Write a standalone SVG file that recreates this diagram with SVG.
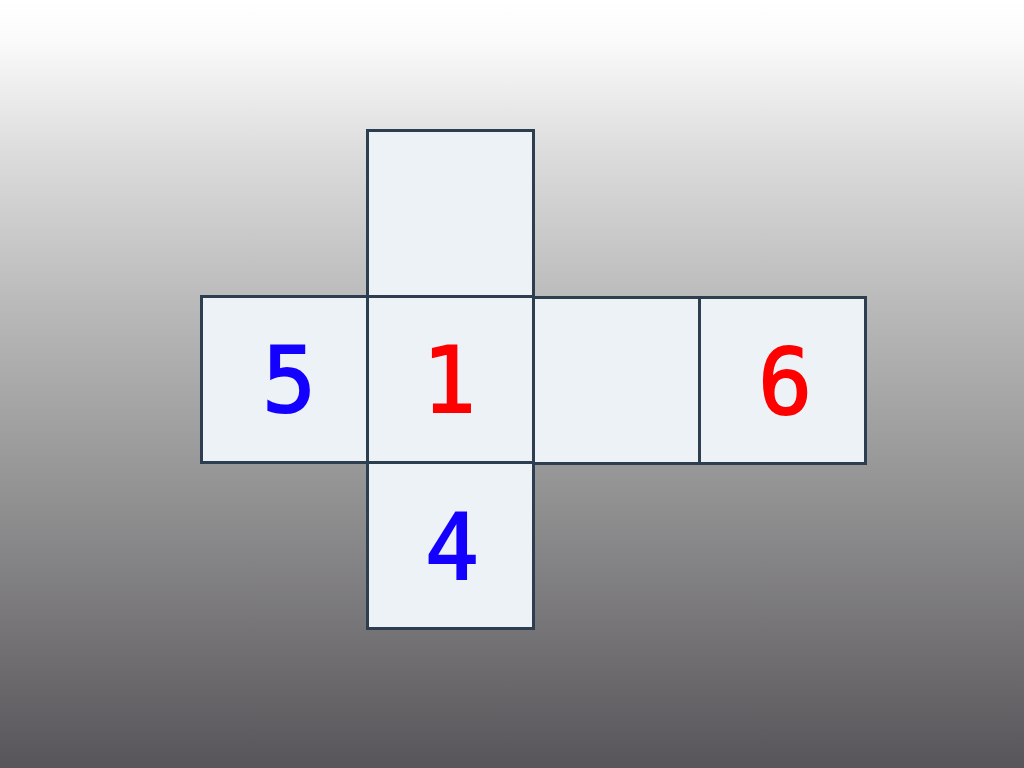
<svg xmlns="http://www.w3.org/2000/svg" width="1024" height="768" viewBox="0 0 1024 768">
  <defs>
    <linearGradient id="bg" x1="0" y1="0" x2="0" y2="1">
      <stop offset="0" stop-color="#ffffff"/>
      <stop offset="0.05" stop-color="#fbfbfb"/>
      <stop offset="0.2" stop-color="#dcdcdc"/>
      <stop offset="0.4" stop-color="#b9b9b9"/>
      <stop offset="0.65" stop-color="#929192"/>
      <stop offset="1" stop-color="#575559"/>
    </linearGradient>
    <style>
      .face { fill: #edf2f7; stroke: #2c3e50; stroke-width: 3; }
      .num { font-family: "DejaVu Sans Mono", "Liberation Mono", monospace; font-size: 90px; text-anchor: middle; stroke-width: 1.8; }
      .blue { fill: #1400ff; stroke: #1400ff; }
      .red { fill: #ff0000; stroke: #ff0000; }
    </style>
  </defs>
  <rect width="1024" height="768" fill="url(#bg)"/>
  <g id="face-top"><rect class="face" x="367.5" y="130.5" width="166" height="166"/></g>
  <g id="face-5"><rect class="face" x="201.5" y="296.5" width="166" height="166"/><text class="num blue" x="289" y="412">5</text></g>
  <g id="face-1"><rect class="face" x="367.5" y="296.5" width="166" height="166"/><text class="num red" x="449" y="412">1</text></g>
  <g id="face-blank"><rect class="face" x="533.5" y="297.5" width="166" height="166"/></g>
  <g id="face-6"><rect class="face" x="699.5" y="297.5" width="166" height="166"/><text class="num red" x="785" y="414">6</text></g>
  <g id="face-4"><rect class="face" x="367.5" y="462.5" width="166" height="166"/><text class="num blue" x="452" y="579">4</text></g>
  <g id="connectors"></g>
</svg>
